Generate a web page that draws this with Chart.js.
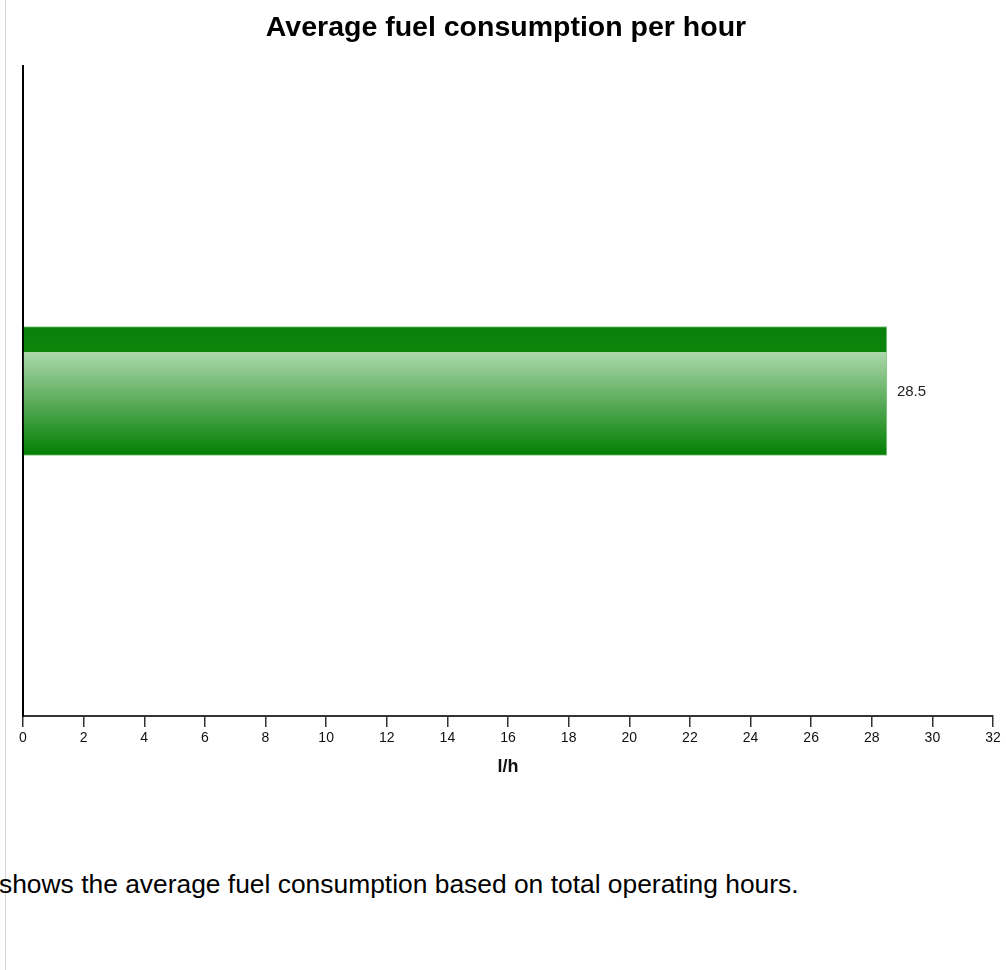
<!DOCTYPE html>
<html>
<head>
<meta charset="utf-8">
<script src="https://cdn.jsdelivr.net/npm/chart.js@4/dist/chart.umd.min.js"></script>
<style>
body { margin: 0; background: #fff; font-family: "Liberation Sans", Arial, sans-serif; }
#page { position: relative; width: 1006px; height: 970px; overflow: hidden; }
#rand { position: absolute; left: 5px; top: 0; width: 1px; height: 970px; background: #d3d3d3; }
#titel { position: absolute; left: 0; top: 10px; width: 1012px; text-align: center; font-weight: bold; font-size: 28.5px; color: #000; }
#wrap { position: absolute; left: 0; top: 0; width: 1006px; height: 790px; }
#tekst { position: absolute; left: -1px; top: 869px; font-size: 26.4px; color: #000; white-space: nowrap; }
</style>
</head>
<body>
<div id="page">
  <div id="rand"></div>
  <div id="wrap"><canvas id="grafiek"></canvas></div>
  <div id="titel">Average fuel consumption per hour</div>
  <div id="tekst">shows the average fuel consumption based on total operating hours.</div>
</div>
<script>
var categorieen = [''];
var verbruik = [28.5];
var xMin = 0, xMax = 32, xStap = 2;

function balkKleur(context) {
    var chart = context.chart;
    if (!chart.chartArea) return '#0a840a';
    var yc = chart.scales.y.getPixelForValue(context.dataIndex);
    var h = 129;
    var top = yc - h / 2;
    var g = chart.ctx.createLinearGradient(0, top, 0, top + h);
    g.addColorStop(0, '#07810a');
    g.addColorStop(0.2, '#0c850c');
    g.addColorStop(0.2, '#acd8ac');
    g.addColorStop(0.55, '#62b062');
    g.addColorStop(1, '#017f01');
    return g;
}

var waardeLabel = {
    id: 'waardeLabel',
    afterDatasetsDraw: function(chart) {
        var ctx = chart.ctx;
        var meta = chart.getDatasetMeta(0);
        ctx.save();
        ctx.font = '15px "Liberation Sans", Arial, sans-serif';
        ctx.fillStyle = '#222';
        ctx.textBaseline = 'middle';
        meta.data.forEach(function(bar, i) {
            ctx.fillText(String(verbruik[i]), bar.x + 10, bar.y + 1);
        });
        ctx.restore();
    }
};

var ctx = document.getElementById('grafiek').getContext('2d');
new Chart(ctx, {
    type: 'bar',
    data: {
        labels: categorieen,
        datasets: [{
            data: verbruik,
            backgroundColor: balkKleur,
            borderColor: '#8cc88c',
            borderWidth: 1,
            borderSkipped: 'start',
            barThickness: 129
        }]
    },
    options: {
        indexAxis: 'y',
        responsive: true,
        maintainAspectRatio: false,
        animation: false,
        layout: { padding: { left: 23, right: 13, top: 66, bottom: 0 } },
        plugins: {
            legend: { display: false },
            title: { display: false },
            tooltip: { enabled: false }
        },
        scales: {
            x: {
                min: xMin,
                max: xMax,
                afterFit: function(scale) { scale.height = 74; },
                ticks: {
                    stepSize: xStap,
                    autoSkip: false,
                    maxRotation: 0,
                    padding: 3,
                    color: '#111',
                    font: { family: '"Liberation Sans", Arial, sans-serif', size: 14 }
                },
                grid: { display: true, drawOnChartArea: false, tickLength: 11, color: '#333', lineWidth: 1.5 },
                border: { display: true, color: '#333', width: 2 },
                title: {
                    display: true,
                    text: 'l/h',
                    color: '#111',
                    padding: { top: 0, bottom: 12 },
                    font: { family: '"Liberation Sans", Arial, sans-serif', size: 18, weight: 'bold' }
                }
            },
            y: {
                afterFit: function(scale) { scale.width = 0; },
                ticks: { display: false },
                grid: { display: false },
                border: { display: true, color: '#000', width: 2 }
            }
        }
    },
    plugins: [waardeLabel]
});
</script>
</body>
</html>
